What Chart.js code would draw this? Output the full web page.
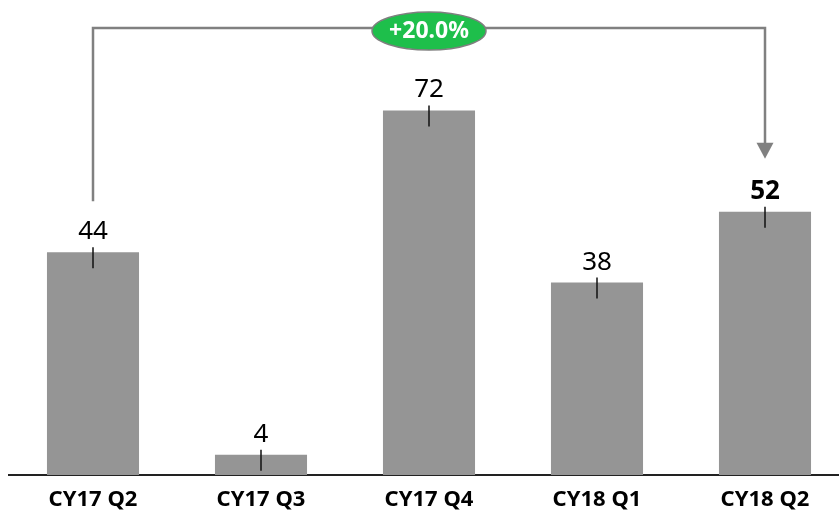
<!DOCTYPE html>
<html>
<head>
<meta charset="utf-8">
<script src="https://cdn.jsdelivr.net/npm/chart.js@4"></script>
<style>
  html, body { margin: 0; padding: 0; background: #fff; overflow: hidden; }
  #caja { position: relative; width: 849px; height: 515px; }
</style>
</head>
<body>
<div id="caja"><canvas id="grafica"></canvas></div>
<script>
var categorias = ["CY17 Q2", "CY17 Q3", "CY17 Q4", "CY18 Q1", "CY18 Q2"];
var valores = [44, 4, 72, 38, 52];
var cambio = "+20.0%";

var fuente = "'Noto Sans', 'DejaVu Sans', sans-serif";

// etiquetas, marcas y la flecha de cambio
var extras = {
    id: 'extras',
    afterDatasetsDraw: function(chart){
        var ctx = chart.ctx;
        var x = chart.scales.x;
        var y = chart.scales.y;
        ctx.save();
        for (var i = 0; i < valores.length; i++){
            var px = x.getPixelForValue(i);
            var py = y.getPixelForValue(valores[i]);
            ctx.strokeStyle = '#111';
            ctx.lineWidth = 1.5;
            ctx.beginPath();
            ctx.moveTo(px, py - 5);
            ctx.lineTo(px, py + 16);
            ctx.stroke();
            var ultimo = (i == valores.length - 1);
            ctx.fillStyle = '#000';
            ctx.font = (ultimo ? 'bold ' : '') + '26px ' + fuente;
            ctx.textAlign = 'center';
            ctx.textBaseline = 'alphabetic';
            ctx.fillText(String(valores[i]), px, py - 13);
        }

        var x1 = x.getPixelForValue(0);
        var x2 = x.getPixelForValue(valores.length - 1);
        var yTop = 28;
        var y1 = y.getPixelForValue(valores[0]) - 51;
        var y2 = y.getPixelForValue(valores[valores.length - 1]) - 53;
        ctx.strokeStyle = '#808080';
        ctx.lineWidth = 2.5;
        ctx.beginPath();
        ctx.moveTo(x1, y1);
        ctx.lineTo(x1, yTop);
        ctx.lineTo(x2, yTop);
        ctx.lineTo(x2, y2 - 15);
        ctx.stroke();
        ctx.fillStyle = '#808080';
        ctx.beginPath();
        ctx.moveTo(x2 - 8.5, y2 - 16);
        ctx.lineTo(x2 + 8.5, y2 - 16);
        ctx.lineTo(x2, y2);
        ctx.closePath();
        ctx.fill();

        var cx = (x1 + x2) / 2;
        ctx.beginPath();
        ctx.ellipse(cx, 31, 57, 19, 0, 0, Math.PI * 2);
        ctx.fillStyle = '#1ebf4b';
        ctx.fill();
        ctx.strokeStyle = '#7f7f7f';
        ctx.lineWidth = 1.5;
        ctx.stroke();
        ctx.fillStyle = '#fff';
        ctx.font = 'bold 23px ' + fuente;
        ctx.textBaseline = 'middle';
        ctx.fillText(cambio, cx, 31);
        ctx.restore();
    }
};

var ctx = document.getElementById('grafica').getContext('2d');

var grafica = new Chart(ctx, {
    type: 'bar',
    data: {
        labels: categorias,
        datasets: [{
            data: valores,
            backgroundColor: '#959595',
            categoryPercentage: 1,
            barPercentage: 0.548
        }]
    },
    options: {
        responsive: true,
        maintainAspectRatio: false,
        animation: false,
        layout: { padding: { left: 9, right: 0, top: 0, bottom: 0 } },
        plugins: { legend: { display: false }, tooltip: { enabled: false } },
        scales: {
            x: {
                grid: { display: false, drawTicks: false },
                border: { display: true, color: '#222', width: 2 },
                ticks: { color: '#000', padding: 12, font: { family: fuente, size: 22, weight: 'bold' } },
                afterFit: function(s){ s.height = 40; }
            },
            y: {
                display: false,
                min: 0,
                max: 93.8
            }
        }
    },
    plugins: [extras]
});
</script>
</body>
</html>
